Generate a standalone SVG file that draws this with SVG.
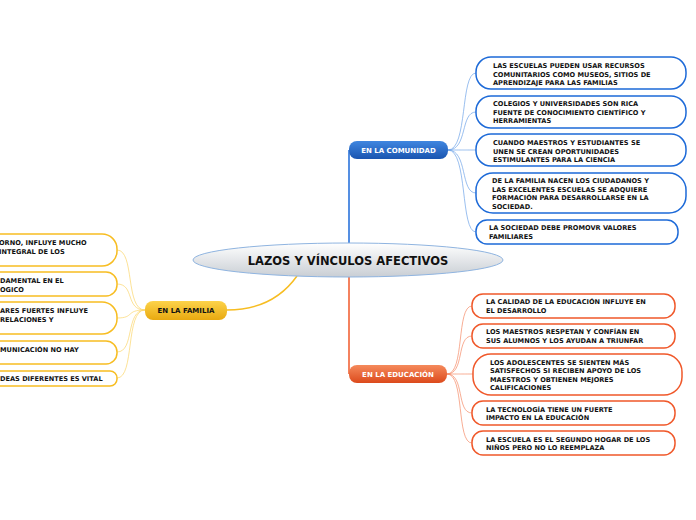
<svg xmlns="http://www.w3.org/2000/svg" width="696" height="520" viewBox="0 0 696 520">
<defs>
<linearGradient id="gc" x1="0" y1="0" x2="0" y2="1"><stop offset="0" stop-color="#fff"/><stop offset="1" stop-color="#c9ced4"/></linearGradient>
<linearGradient id="gb" x1="0" y1="0" x2="0" y2="1"><stop offset="0" stop-color="#3f86e0"/><stop offset="1" stop-color="#1a55b0"/></linearGradient>
<linearGradient id="go" x1="0" y1="0" x2="0" y2="1"><stop offset="0" stop-color="#f58a5c"/><stop offset="1" stop-color="#dc4a1c"/></linearGradient>
<linearGradient id="gy" x1="0" y1="0" x2="0" y2="1"><stop offset="0" stop-color="#fdd34a"/><stop offset="1" stop-color="#e8a910"/></linearGradient>
</defs>
<style>
text{font-family:"DejaVu Sans",Verdana,sans-serif;font-weight:bold;font-size:6.6px;fill:#111}
.b{fill:#fff;stroke:#1d6ad8;stroke-width:1.5}
.o{fill:#fff;stroke:#f0582a;stroke-width:1.5}
.y{fill:#fff;stroke:#f7bd22;stroke-width:1.5}
.lb{fill:none;stroke:#6fa3e8;stroke-width:0.7}
.lo{fill:none;stroke:#f58a66;stroke-width:0.7}
.ly{fill:none;stroke:#fbd56a;stroke-width:0.7}
.m{fill:#fff;font-size:7px}
</style>
<g id="connectors">
<path d="M349 243 V150" stroke="#1d6ad8" stroke-width="1.5" fill="none"/>
<path d="M349 277 V374" stroke="#f0582a" stroke-width="1.5" fill="none"/>
<path d="M297 276 C280 300 255 310 227 310" stroke="#f7bd22" stroke-width="1.5" fill="none"/>
<path class="lb" d="M448 150 C468 150 460 73 476 73"/>
<path class="lb" d="M448 150 C468 150 460 112 476 112"/>
<path class="lb" d="M448 150 C468 150 460 150 476 150"/>
<path class="lb" d="M448 150 C468 150 460 193 476 193"/>
<path class="lb" d="M448 150 C468 150 460 232 476 232"/>
<path class="lo" d="M447 374 C465 374 456 306 472 306"/>
<path class="lo" d="M447 374 C465 374 456 336 472 336"/>
<path class="lo" d="M447 374 C465 374 456 374 473 374"/>
<path class="lo" d="M447 374 C465 374 456 413 472 413"/>
<path class="lo" d="M447 374 C465 374 456 443 472 443"/>
<path class="ly" d="M145 310 C125 310 135 250 117 250"/>
<path class="ly" d="M145 310 C125 310 135 284 117 284"/>
<path class="ly" d="M145 310 C125 310 135 318 117 318"/>
<path class="ly" d="M145 310 C125 310 135 352 117 352"/>
<path class="ly" d="M145 310 C125 310 135 378 117 378"/>
</g>
<g id="center"><ellipse cx="348" cy="260" rx="155" ry="17" fill="url(#gc)" stroke="#8fb4e0" stroke-width="1"/>
<text x="348" y="264.5" text-anchor="middle" style="font-size:11.5px">LAZOS Y VÍNCULOS AFECTIVOS</text></g>
<g id="comunidad"><rect x="349" y="141" width="99" height="18" rx="8" fill="url(#gb)"/><text class="m" x="398.5" y="153" text-anchor="middle">EN LA COMUNIDAD</text></g>
<g id="educacion"><rect x="349" y="365" width="98" height="18" rx="8" fill="url(#go)"/><text class="m" x="398" y="377" text-anchor="middle">EN LA EDUCACIÓN</text></g>
<g id="familia"><rect x="145" y="301" width="82" height="19" rx="8" fill="url(#gy)"/><text x="186" y="313" text-anchor="middle" style="font-size:7px">EN LA FAMILIA</text></g>
<g id="c1"><rect class="b" x="476" y="57" width="210" height="32" rx="15"/><text x="493" y="68">LAS ESCUELAS PUEDEN USAR RECURSOS</text><text x="493" y="76.5">COMUNITARIOS COMO MUSEOS, SITIOS DE</text><text x="493" y="85">APRENDIZAJE PARA LAS FAMILIAS</text></g>
<g id="c2"><rect class="b" x="476" y="96" width="210" height="32" rx="15"/><text x="493" y="106">COLEGIOS Y UNIVERSIDADES SON RICA</text><text x="493" y="114.5">FUENTE DE CONOCIMIENTO CIENTÍFICO Y</text><text x="493" y="123">HERRAMIENTAS</text></g>
<g id="c3"><rect class="b" x="476" y="134" width="210" height="32" rx="15"/><text x="493" y="145">CUANDO MAESTROS Y ESTUDIANTES SE</text><text x="493" y="153.5">UNEN SE CREAN OPORTUNIDADES</text><text x="493" y="162">ESTIMULANTES PARA LA CIENCIA</text></g>
<g id="c4"><rect class="b" x="476" y="173" width="210" height="40" rx="17"/><text x="492" y="183">DE LA FAMILIA NACEN LOS CIUDADANOS Y</text><text x="492" y="191.5">LAS EXCELENTES ESCUELAS SE ADQUIERE</text><text x="492" y="200">FORMACIÓN PARA DESARROLLARSE EN LA</text><text x="492" y="208.5">SOCIEDAD.</text></g>
<g id="c5"><rect class="b" x="476" y="220" width="202" height="24" rx="11"/><text x="489" y="230">LA SOCIEDAD DEBE PROMOVR VALORES</text><text x="489" y="238.5">FAMILIARES</text></g>
<g id="e1"><rect class="o" x="472" y="294" width="203" height="24" rx="11"/><text x="486" y="304">LA CALIDAD DE LA EDUCACIÓN INFLUYE EN</text><text x="486" y="312.5">EL DESARROLLO</text></g>
<g id="e2"><rect class="o" x="472" y="324" width="203" height="24" rx="11"/><text x="486" y="334">LOS MAESTROS RESPETAN Y CONFÍAN EN</text><text x="486" y="342.5">SUS ALUMNOS Y LOS AYUDAN A TRIUNFAR</text></g>
<g id="e3"><rect class="o" x="473" y="354" width="209" height="41" rx="18"/><text x="490" y="364.5">LOS ADOLESCENTES SE SIENTEN MÁS</text><text x="490" y="373">SATISFECHOS SI RECIBEN APOYO DE LOS</text><text x="490" y="381.5">MAESTROS Y OBTIENEN MEJORES</text><text x="490" y="390">CALIFICACIONES</text></g>
<g id="e4"><rect class="o" x="472" y="401" width="203" height="24" rx="11"/><text x="486" y="411.5">LA TECNOLOGÍA TIENE UN FUERTE</text><text x="486" y="420">IMPACTO EN LA EDUCACIÓN</text></g>
<g id="e5"><rect class="o" x="472" y="431" width="203" height="24" rx="11"/><text x="486" y="441.5">LA ESCUELA ES EL SEGUNDO HOGAR DE LOS</text><text x="486" y="450">NIÑOS PERO NO LO REEMPLAZA</text></g>
<g id="f1"><rect class="y" x="-40" y="234" width="157" height="32" rx="15"/><text x="-1" y="245">ORNO, INFLUYE MUCHO</text><text x="-1" y="253.5">INTEGRAL DE LOS</text></g>
<g id="f2"><rect class="y" x="-40" y="272" width="157" height="24" rx="11"/><text x="0" y="283">DAMENTAL EN EL</text><text x="0" y="291.5">OGICO</text></g>
<g id="f3"><rect class="y" x="-40" y="302" width="157" height="32" rx="15"/><text x="0" y="313">ARES FUERTES INFLUYE</text><text x="0" y="321.5">RELACIONES  Y</text></g>
<g id="f4"><rect class="y" x="-40" y="341" width="157" height="23" rx="11"/><text x="0" y="352">MUNICACIÓN NO HAY</text></g>
<g id="f5"><rect class="y" x="-40" y="371" width="157" height="15" rx="7"/><text x="0" y="381">DEAS DIFERENTES ES VITAL</text></g>
</svg>
